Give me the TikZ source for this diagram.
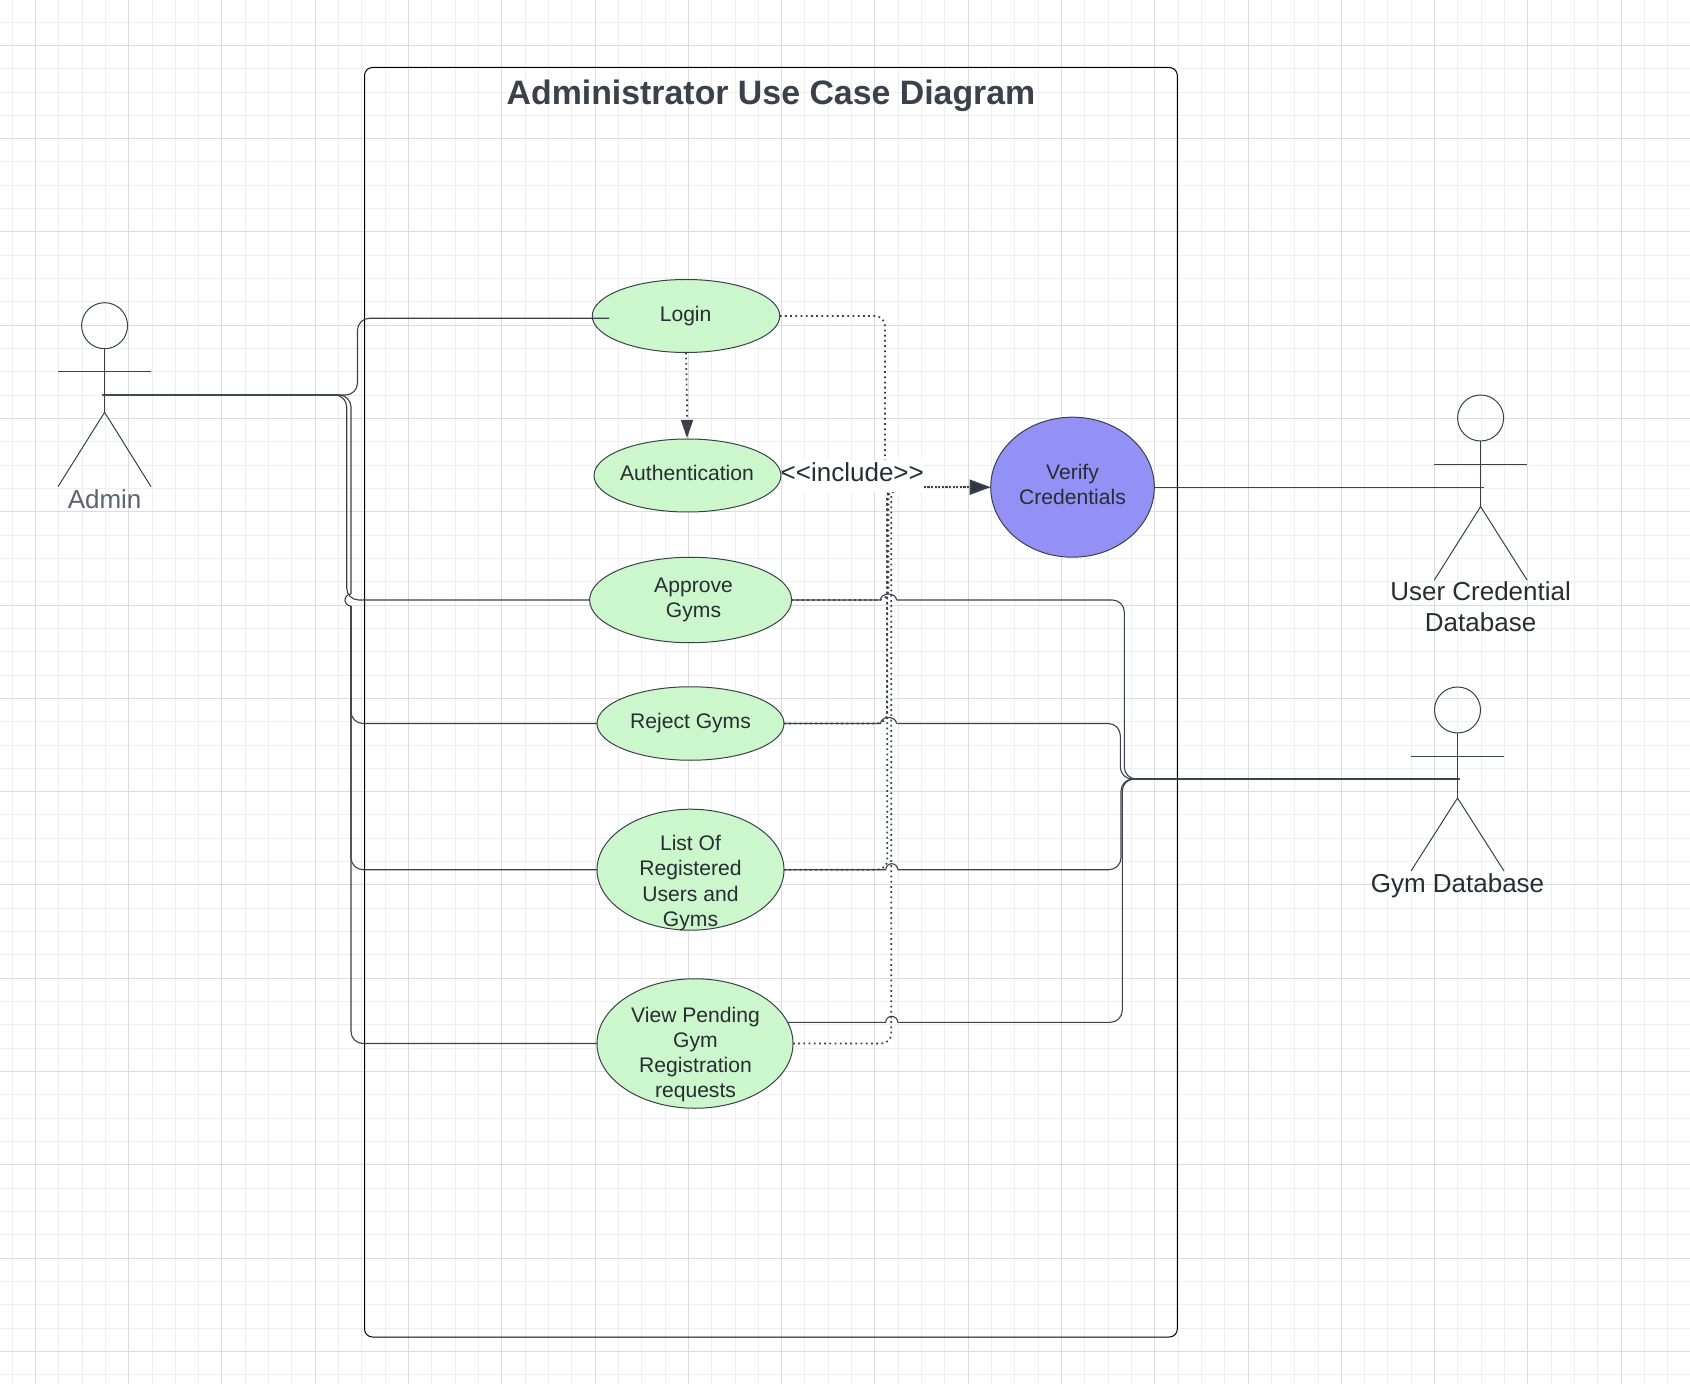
\documentclass[tikz,border=0pt]{standalone}
\usepackage{fontspec}
\setmainfont{Liberation Sans}
\usetikzlibrary{shapes.geometric,arrows.meta}
\definecolor{gridminor}{HTML}{EFEFEF}
\definecolor{gridmajor}{HTML}{DCDCDC}
\definecolor{ink}{HTML}{3A414A}
\definecolor{txt}{HTML}{282C33}
\definecolor{adm}{HTML}{5C6470}
\definecolor{ucgreen}{HTML}{CCF7CC}
\definecolor{ucblue}{HTML}{9391F5}
\tikzset{
  uc/.style={ellipse,draw=ink,line width=0.5pt,fill=ucgreen,inner sep=0pt,outer sep=0pt},
  uctext/.style={font=\fontsize{10.55}{12.65}\selectfont,text=txt,align=center,inner sep=0pt},
  actortext/.style={font=\fontsize{13}{15.4}\selectfont,text=txt,align=center,inner sep=0pt},
  actorline/.style={draw=ink,line width=0.5pt},
  solidlink/.style={draw=ink,line width=0.55pt,rounded corners=6pt},
  bump/.style={draw=ink,line width=0.55pt},
  dotlink/.style={draw=ink,line width=0.85pt,dash pattern=on 0.9pt off 1.7pt,rounded corners=5pt},
  dotarrow/.style={draw=ink,line width=0.95pt,dash pattern=on 1.1pt off 0.7pt,-{Triangle[length=10.5pt,width=7.5pt,fill=ink!85!black]}},
  authlink/.style={draw=ink,line width=0.85pt,dash pattern=on 0.9pt off 1.7pt,-{Triangle[length=9pt,width=6pt,fill=ink]}}
}
\begin{document}
\begin{tikzpicture}[x=0.5pt,y=-0.5pt]
\useasboundingbox (0,0) rectangle (1690,1384);
\fill[white] (0,0) rectangle (1690,1384);
% grid
\foreach \k in {-1,...,72} {
  \pgfmathsetmacro{\gx}{35.4+23.32*\k}
  \draw[gridminor,line width=0.5pt] (\gx,0) -- (\gx,1384);
}
\foreach \k in {-1,...,58} {
  \pgfmathsetmacro{\gy}{45.4+23.32*\k}
  \draw[gridminor,line width=0.5pt] (0,\gy) -- (1690,\gy);
}
\foreach \k in {0,...,18} {
  \pgfmathsetmacro{\gx}{35.4+93.28*\k}
  \draw[gridmajor,line width=0.5pt] (\gx,0) -- (\gx,1384);
}
\foreach \k in {0,...,14} {
  \pgfmathsetmacro{\gy}{45.4+93.28*\k}
  \draw[gridmajor,line width=0.5pt] (0,\gy) -- (1690,\gy);
}
% frame
\draw[black,line width=0.5pt,rounded corners=4pt] (364.5,67.5) rectangle (1177.3,1337);
\node[font=\bfseries\fontsize{16.93}{20}\selectfont,text=ink,inner sep=0pt] (title) at (771,95.8) {Administrator Use Case Diagram};
% use cases
\node[uc,minimum width=187.5pt*0.5,minimum height=73pt*0.5] (login) at (686,316) {};
\node[uc,minimum width=187pt*0.5,minimum height=73pt*0.5] (auth) at (687.5,475.5) {};
\node[uc,minimum width=202pt*0.5,minimum height=85.5pt*0.5] (approve) at (690.6,600) {};
\node[uc,minimum width=187pt*0.5,minimum height=73.5pt*0.5] (reject) at (690.5,723.5) {};
\node[uc,minimum width=187pt*0.5,minimum height=121pt*0.5] (list) at (690.5,869.7) {};
\node[uc,minimum width=196pt*0.5,minimum height=129.5pt*0.5] (view) at (695,1043.5) {};
\node[uc,fill=ucblue,minimum width=163.6pt*0.5,minimum height=140pt*0.5] (verify) at (1072.5,487.2) {};
\node[uctext] (logintext) at (685.6,315.6) {Login};
\node[uctext] (authtext) at (687,473) {Authentication};
\node[uctext] (approvetext) at (693.5,600) {Approve\\Gyms\hspace{2pt}};
\node[uctext] (rejecttext) at (690.5,723) {Reject Gyms};
\node[uctext] (listtext) at (690.5,883) {List Of\\Registered\\Users and\\Gyms};
\node[uctext] (viewtext) at (695.5,1054.5) {View Pending\\Gym\\Registration\\requests};
\node[uctext] (verifytext) at (1072.5,484.5) {Verify\\Credentials};
% actors
\node[circle,actorline,minimum size=23pt,inner sep=0pt,outer sep=0pt] (adminhead) at (104.6,325.7) {};
\coordinate (adminhip) at (104.6,412.3);
\coordinate (adminarmL) at (58,372);\coordinate (adminarmR) at (151,372);
\coordinate (adminlegL) at (58,486.7);\coordinate (adminlegR) at (151,486.7);
\draw[actorline] (adminhead.south) -- (adminhip);
\draw[actorline] (adminarmL) -- (adminarmR);
\draw[actorline] (adminlegL) -- (adminhip) -- (adminlegR);
\node[actortext,text=adm] (admintext) at (104.6,499.3) {Admin};
\node[circle,actorline,minimum size=23pt,inner sep=0pt,outer sep=0pt] (userhead) at (1480.6,418) {};
\coordinate (userhip) at (1480.6,506.6);
\coordinate (userarmL) at (1434.3,464.5);\coordinate (userarmR) at (1527,464.5);
\coordinate (userlegL) at (1434.3,580);\coordinate (userlegR) at (1527,580);
\draw[actorline] (userhead.south) -- (userhip);
\draw[actorline] (userarmL) -- (userarmR);
\draw[actorline] (userlegL) -- (userhip) -- (userlegR);
\node[actortext] (usertext) at (1480.6,606.5) {User Credential\\Database};
\node[circle,actorline,minimum size=23pt,inner sep=0pt,outer sep=0pt] (gymhead) at (1457.5,710) {};
\coordinate (gymhip) at (1457.5,798);
\coordinate (gymarmL) at (1411,756.7);\coordinate (gymarmR) at (1504,756.7);
\coordinate (gymlegL) at (1411,871);\coordinate (gymlegR) at (1504,871);
\draw[actorline] (gymhead.south) -- (gymhip);
\draw[actorline] (gymarmL) -- (gymarmR);
\draw[actorline] (gymlegL) -- (gymhip) -- (gymlegR);
\node[actortext] (gymtext) at (1457.5,886) {Gym Database};
% connector ends
\coordinate (adminport) at (102.4,395);
\coordinate (gymport) at (1459.5,779);
\coordinate (userport) at (1484,487.2);
\coordinate (logintip) at (609,318.3);
\coordinate (viewport) at (788,1022.3);
\coordinate (lefta) at (351,594);
\coordinate (leftb) at (351,606);
\coordinate (approveA) at (880.5,600);\coordinate (approveB) at (896.5,600);
\coordinate (rejectA) at (880.5,723.5);\coordinate (rejectB) at (896.5,723.5);
\coordinate (listA) at (885.7,869.7);\coordinate (listB) at (897.7,869.7);
\coordinate (viewA) at (885.7,1022.3);\coordinate (viewB) at (897.7,1022.3);
% left bus
\draw[solidlink] (adminport) -- (357.5,395) -- (357.5,318.3) -- (logintip);
\draw[solidlink] (adminport) -- (346.7,395) -- (346.7,600) -- (approve.west);
\draw[solidlink] (adminport) -- (351,395) -- (lefta);
\draw[bump] (lefta) arc (270:90:6);
\draw[solidlink] (leftb) -- (351,723.5) -- (reject.west);
\draw[solidlink] (leftb) -- (351,869.7) -- (list.west);
\draw[solidlink] (leftb) -- (351,1043.5) -- (view.west);
% right bus
\draw[bump] (approve.east) -- (approveA) arc (180:360:8 and 6);
\draw[solidlink] (approveB) -- (1124.3,600) -- (1124.3,779) -- (gymport);
\draw[bump] (reject.east) -- (rejectA) arc (180:360:8 and 6);
\draw[solidlink] (rejectB) -- (1120.3,723.5) -- (1120.3,779) -- (gymport);
\draw[bump] (list.east) -- (listA) arc (180:360:6);
\draw[solidlink] (listB) -- (1121,869.7) -- (1121,779) -- (gymport);
\draw[bump] (viewport) -- (viewA) arc (180:360:6);
\draw[solidlink] (viewB) -- (1122.3,1022.3) -- (1122.3,779) -- (gymport);
\draw[actorline] (verify.east) -- (userport);
% include links
\coordinate (merge) at (895,487.2);
\draw[dotlink] (login.east) -| (885,487.2) -- (merge);
\draw[dotlink] (approve.east) -| (888.5,487.2) -- (merge);
\draw[dotlink] (reject.east) -| (887,487.2) -- (merge);
\draw[dotlink] (list.east) -| (887.3,487.2) -- (merge);
\draw[dotlink] (view.east) -| (891.3,487.2) -- (merge);
\draw[dotarrow] (merge) -- (verify.west);
\coordinate (authbend) at (687,405);
\coordinate (authtip) at (687,438);
\draw[authlink] (login.south) -- (authbend) -- (authtip);
% include label
\fill[white] (781.5,460) rectangle (923,491.7);
\node[actortext] (includetext) at (852.3,472.7) {<{}<include>{}>};
\end{tikzpicture}
\end{document}
